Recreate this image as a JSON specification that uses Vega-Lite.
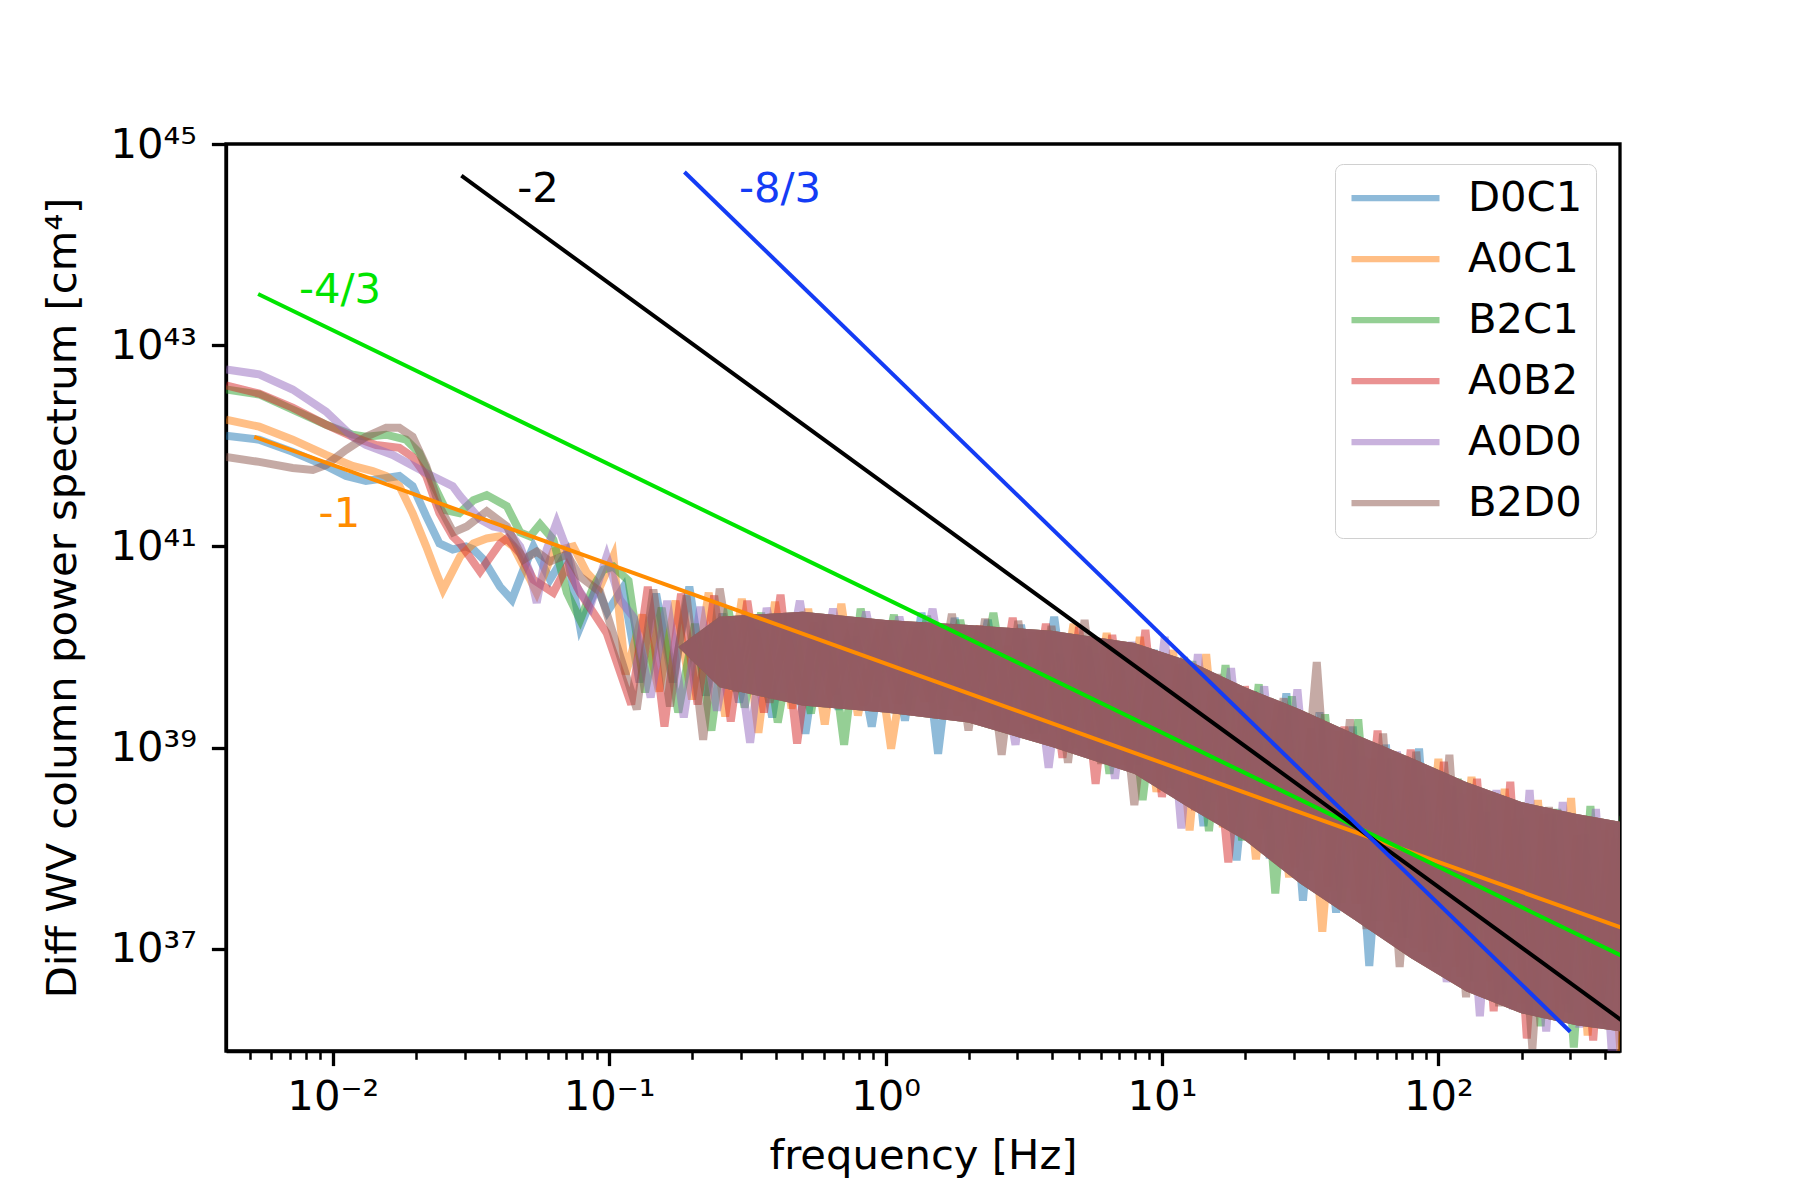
{
  "$schema": "https://vega.github.io/schema/vega-lite/v6.json",
  "width": 1394,
  "height": 907,
  "autosize": {"type": "none"},
  "padding": {"left": 226, "top": 144, "right": 180, "bottom": 149},
  "background": "white",
  "config": {
    "view": {"stroke": "black", "strokeWidth": 3.3},
    "font": "DejaVu Sans",
    "axis": {"grid": false}
  },
  "datasets": {
    "spec": [
      {"s":"D0C1","f":0.004111,"p":1.26e42},{"s":"D0C1","f":0.00542,"p":1.15e42},{"s":"D0C1","f":0.007161,"p":8.71e41},{"s":"D0C1","f":0.009462,"p":6.31e41},{"s":"D0C1","f":0.01117,"p":5.01e41},{"s":"D0C1","f":0.01318,"p":4.47e41},{"s":"D0C1","f":0.0156,"p":4.79e41},{"s":"D0C1","f":0.01742,"p":5.01e41},{"s":"D0C1","f":0.01945,"p":3.98e41},{"s":"D0C1","f":0.02178,"p":2.0e41},{"s":"D0C1","f":0.02432,"p":1.07e41},{"s":"D0C1","f":0.02716,"p":9.33e40},{"s":"D0C1","f":0.03034,"p":1.0e41},{"s":"D0C1","f":0.03228,"p":9.33e40},{"s":"D0C1","f":0.0351,"p":7.41e40},{"s":"D0C1","f":0.04027,"p":3.98e40},{"s":"D0C1","f":0.04446,"p":2.95e40},{"s":"D0C1","f":0.04898,"p":5.89e40},{"s":"D0C1","f":0.05321,"p":1.0e41},{"s":"D0C1","f":0.06109,"p":4.68e40},{"s":"D0C1","f":0.07031,"p":8.71e40},{"s":"D0C1","f":0.07852,"p":1.58e40},{"s":"D0C1","f":0.09016,"p":3.98e40},{"s":"D0C1","f":0.0985,"p":2.24e40},
      {"s":"D0C1","f":0.1122,"p":3.89e40},{"s":"D0C1","f":0.1288,"p":4.47e39},{"s":"D0C1","f":0.1479,"p":3.39e40},{"s":"D0C1","f":0.1698,"p":4.47e39},{"s":"D0C1","f":0.195,"p":3.98e40},{"s":"D0C1","f":0.2239,"p":3.31e39},{"s":"D0C1","f":0.257,"p":2.14e40},{"s":"D0C1","f":0.2951,"p":2.82e39},{"s":"D0C1","f":0.3388,"p":1.48e40},{"s":"D0C1","f":0.389,"p":2.0e39},{"s":"D0C1","f":0.4467,"p":2.14e40},{"s":"D0C1","f":0.5129,"p":1.38e39},{"s":"D0C1","f":0.5888,"p":1.82e40},{"s":"D0C1","f":0.6761,"p":2.4e39},{"s":"D0C1","f":0.7762,"p":1.26e40},{"s":"D0C1","f":0.8913,"p":1.62e39},{"s":"D0C1","f":1.023,"p":1.78e40},{"s":"D0C1","f":1.175,"p":1.86e39},{"s":"D0C1","f":1.349,"p":2.19e40},{"s":"D0C1","f":1.549,"p":8.71e38},{"s":"D0C1","f":1.778,"p":1.95e40},{"s":"D0C1","f":2.042,"p":2.34e39},{"s":"D0C1","f":2.344,"p":1.86e40},{"s":"D0C1","f":2.692,"p":1.51e39},{"s":"D0C1","f":3.09,"p":1.66e40},{"s":"D0C1","f":3.548,"p":1.41e39},{"s":"D0C1","f":4.074,"p":2.0e40},{"s":"D0C1","f":4.677,"p":1.26e39},{"s":"D0C1","f":5.37,"p":1.02e40},{"s":"D0C1","f":6.166,"p":1.1e39},{"s":"D0C1","f":7.079,"p":6.76e39},{"s":"D0C1","f":8.128,"p":6.76e38},{"s":"D0C1","f":9.333,"p":9.33e39},{"s":"D0C1","f":10.72,"p":3.98e38},{"s":"D0C1","f":12.3,"p":6.46e39},{"s":"D0C1","f":14.13,"p":1.66e38},{"s":"D0C1","f":16.22,"p":3.47e39},{"s":"D0C1","f":18.62,"p":7.59e37},{"s":"D0C1","f":21.38,"p":3.63e39},{"s":"D0C1","f":24.55,"p":7.94e37},{"s":"D0C1","f":28.18,"p":3.47e39},{"s":"D0C1","f":32.36,"p":3.02e37},{"s":"D0C1","f":37.15,"p":2.24e39},{"s":"D0C1","f":42.66,"p":2.29e37},{"s":"D0C1","f":48.98,"p":1.62e39},{"s":"D0C1","f":56.23,"p":6.76e36},{"s":"D0C1","f":64.57,"p":1.07e39},{"s":"D0C1","f":74.13,"p":1.29e37},{"s":"D0C1","f":85.11,"p":9.77e38},{"s":"D0C1","f":97.72,"p":6.61e36},{"s":"D0C1","f":112.2,"p":4.17e38},{"s":"D0C1","f":128.8,"p":4.79e36},{"s":"D0C1","f":147.9,"p":2.29e38},{"s":"D0C1","f":169.8,"p":3.55e36},{"s":"D0C1","f":195.0,"p":2.82e38},{"s":"D0C1","f":223.9,"p":3.39e36},{"s":"D0C1","f":257.0,"p":2.19e38},{"s":"D0C1","f":295.1,"p":2.34e36},{"s":"D0C1","f":338.8,"p":1.38e38},{"s":"D0C1","f":389.0,"p":1.82e36},{"s":"D0C1","f":446.7,"p":1.78e38},

      {"s":"A0C1","f":0.004111,"p":1.82e42},{"s":"A0C1","f":0.00542,"p":1.55e42},{"s":"A0C1","f":0.007161,"p":1.15e42},{"s":"A0C1","f":0.009462,"p":8.13e41},{"s":"A0C1","f":0.0118,"p":6.31e41},{"s":"A0C1","f":0.01396,"p":5.62e41},{"s":"A0C1","f":0.0156,"p":5.01e41},{"s":"A0C1","f":0.01742,"p":3.98e41},{"s":"A0C1","f":0.01945,"p":2.14e41},{"s":"A0C1","f":0.02178,"p":1.0e41},{"s":"A0C1","f":0.02366,"p":5.5e40},{"s":"A0C1","f":0.02506,"p":3.72e40},{"s":"A0C1","f":0.02891,"p":7.94e40},{"s":"A0C1","f":0.03228,"p":1.07e41},{"s":"A0C1","f":0.03606,"p":1.2e41},{"s":"A0C1","f":0.04027,"p":1.26e41},{"s":"A0C1","f":0.04498,"p":1.0e41},{"s":"A0C1","f":0.05035,"p":5.5e40},{"s":"A0C1","f":0.0547,"p":3.47e40},{"s":"A0C1","f":0.06281,"p":8.91e40},{"s":"A0C1","f":0.07413,"p":1.0e41},{"s":"A0C1","f":0.08299,"p":5.5e40},{"s":"A0C1","f":0.09268,"p":3.98e40},{"s":"A0C1","f":0.1035,"p":7.94e40},
      {"s":"A0C1","f":0.1148,"p":5.37e39},{"s":"A0C1","f":0.1318,"p":2.09e40},{"s":"A0C1","f":0.1514,"p":3.63e39},{"s":"A0C1","f":0.1738,"p":2.88e40},{"s":"A0C1","f":0.1995,"p":3.02e39},{"s":"A0C1","f":0.2291,"p":3.47e40},{"s":"A0C1","f":0.263,"p":2.04e39},{"s":"A0C1","f":0.302,"p":3.02e40},{"s":"A0C1","f":0.3467,"p":1.41e39},{"s":"A0C1","f":0.3981,"p":2.82e40},{"s":"A0C1","f":0.4571,"p":2.45e39},{"s":"A0C1","f":0.5248,"p":2.4e40},{"s":"A0C1","f":0.6026,"p":1.7e39},{"s":"A0C1","f":0.6918,"p":2.69e40},{"s":"A0C1","f":0.7943,"p":2.09e39},{"s":"A0C1","f":0.912,"p":1.48e40},{"s":"A0C1","f":1.047,"p":9.77e38},{"s":"A0C1","f":1.202,"p":1.05e40},{"s":"A0C1","f":1.38,"p":2.88e39},{"s":"A0C1","f":1.585,"p":1.58e40},{"s":"A0C1","f":1.82,"p":2.09e39},{"s":"A0C1","f":2.089,"p":1.45e40},{"s":"A0C1","f":2.399,"p":1.91e39},{"s":"A0C1","f":2.754,"p":1.02e40},{"s":"A0C1","f":3.162,"p":1.74e39},{"s":"A0C1","f":3.631,"p":1.45e40},{"s":"A0C1","f":4.169,"p":1.58e39},{"s":"A0C1","f":4.786,"p":1.7e40},{"s":"A0C1","f":5.495,"p":9.77e38},{"s":"A0C1","f":6.31,"p":1.38e40},{"s":"A0C1","f":7.244,"p":6.76e38},{"s":"A0C1","f":8.318,"p":1.26e40},{"s":"A0C1","f":9.55,"p":3.63e38},{"s":"A0C1","f":10.96,"p":9.33e39},{"s":"A0C1","f":12.59,"p":1.51e38},{"s":"A0C1","f":14.45,"p":8.51e39},{"s":"A0C1","f":16.6,"p":1.62e38},{"s":"A0C1","f":19.05,"p":3.47e39},{"s":"A0C1","f":21.88,"p":7.76e37},{"s":"A0C1","f":25.12,"p":1.86e39},{"s":"A0C1","f":28.84,"p":5.13e37},{"s":"A0C1","f":33.11,"p":2.19e39},{"s":"A0C1","f":38.02,"p":1.48e37},{"s":"A0C1","f":43.65,"p":1.45e39},{"s":"A0C1","f":50.12,"p":2.82e37},{"s":"A0C1","f":57.54,"p":7.76e38},{"s":"A0C1","f":66.07,"p":1.32e37},{"s":"A0C1","f":75.86,"p":8.13e38},{"s":"A0C1","f":87.1,"p":9.33e36},{"s":"A0C1","f":100.0,"p":7.76e38},{"s":"A0C1","f":114.8,"p":6.61e36},{"s":"A0C1","f":131.8,"p":5.13e38},{"s":"A0C1","f":151.4,"p":4.79e36},{"s":"A0C1","f":173.8,"p":3.89e38},{"s":"A0C1","f":199.5,"p":2.88e36},{"s":"A0C1","f":229.1,"p":3.02e38},{"s":"A0C1","f":263.0,"p":2.24e36},{"s":"A0C1","f":302.0,"p":3.16e38},{"s":"A0C1","f":346.7,"p":1.38e36},{"s":"A0C1","f":398.1,"p":1.51e38},{"s":"A0C1","f":457.1,"p":8.51e35},

      {"s":"B2C1","f":0.004111,"p":3.63e42},{"s":"B2C1","f":0.00542,"p":3.24e42},{"s":"B2C1","f":0.007161,"p":2.29e42},{"s":"B2C1","f":0.009462,"p":1.62e42},{"s":"B2C1","f":0.0118,"p":1.29e42},{"s":"B2C1","f":0.01318,"p":1.23e42},{"s":"B2C1","f":0.0156,"p":1.29e42},{"s":"B2C1","f":0.01841,"p":1.15e42},{"s":"B2C1","f":0.02056,"p":8.51e41},{"s":"B2C1","f":0.02301,"p":4.27e41},{"s":"B2C1","f":0.0257,"p":2.29e41},{"s":"B2C1","f":0.02871,"p":2.14e41},{"s":"B2C1","f":0.03228,"p":2.88e41},{"s":"B2C1","f":0.03606,"p":3.24e41},{"s":"B2C1","f":0.04266,"p":2.51e41},{"s":"B2C1","f":0.04764,"p":1.38e41},{"s":"B2C1","f":0.05176,"p":1.26e41},{"s":"B2C1","f":0.05623,"p":1.66e41},{"s":"B2C1","f":0.06281,"p":1.17e41},{"s":"B2C1","f":0.07031,"p":3.47e40},{"s":"B2C1","f":0.07852,"p":1.86e40},{"s":"B2C1","f":0.0877,"p":3.98e40},{"s":"B2C1","f":0.09528,"p":5.89e40},{"s":"B2C1","f":0.1035,"p":6.31e40},
      {"s":"B2C1","f":0.1175,"p":4.57e40},{"s":"B2C1","f":0.1349,"p":3.55e39},{"s":"B2C1","f":0.1549,"p":2.45e40},{"s":"B2C1","f":0.1778,"p":2.24e39},{"s":"B2C1","f":0.2042,"p":1.7e40},{"s":"B2C1","f":0.2344,"p":1.48e39},{"s":"B2C1","f":0.2692,"p":2.51e40},{"s":"B2C1","f":0.309,"p":2.51e39},{"s":"B2C1","f":0.3548,"p":2.19e40},{"s":"B2C1","f":0.4074,"p":1.78e39},{"s":"B2C1","f":0.4677,"p":1.51e40},{"s":"B2C1","f":0.537,"p":2.19e39},{"s":"B2C1","f":0.6166,"p":2.04e40},{"s":"B2C1","f":0.7079,"p":1.07e39},{"s":"B2C1","f":0.8128,"p":2.4e40},{"s":"B2C1","f":0.9333,"p":3.24e39},{"s":"B2C1","f":1.072,"p":2.09e40},{"s":"B2C1","f":1.23,"p":2.34e39},{"s":"B2C1","f":1.413,"p":2.04e40},{"s":"B2C1","f":1.622,"p":2.45e39},{"s":"B2C1","f":1.862,"p":1.86e40},{"s":"B2C1","f":2.138,"p":2.34e39},{"s":"B2C1","f":2.455,"p":2.19e40},{"s":"B2C1","f":2.818,"p":2.14e39},{"s":"B2C1","f":3.236,"p":1.2e40},{"s":"B2C1","f":3.715,"p":1.41e39},{"s":"B2C1","f":4.266,"p":8.51e39},{"s":"B2C1","f":4.898,"p":1.0e39},{"s":"B2C1","f":5.623,"p":1.2e40},{"s":"B2C1","f":6.457,"p":5.5e38},{"s":"B2C1","f":7.413,"p":1.0e40},{"s":"B2C1","f":8.511,"p":3.02e38},{"s":"B2C1","f":9.772,"p":6.61e39},{"s":"B2C1","f":11.22,"p":3.55e38},{"s":"B2C1","f":12.88,"p":7.24e39},{"s":"B2C1","f":14.79,"p":1.48e38},{"s":"B2C1","f":16.98,"p":6.61e39},{"s":"B2C1","f":19.5,"p":1.2e38},{"s":"B2C1","f":22.39,"p":4.27e39},{"s":"B2C1","f":25.7,"p":3.55e37},{"s":"B2C1","f":29.51,"p":3.24e39},{"s":"B2C1","f":33.88,"p":6.03e37},{"s":"B2C1","f":38.9,"p":2.14e39},{"s":"B2C1","f":44.67,"p":2.88e37},{"s":"B2C1","f":51.29,"p":1.91e39},{"s":"B2C1","f":58.88,"p":1.91e37},{"s":"B2C1","f":67.61,"p":7.76e38},{"s":"B2C1","f":77.62,"p":1.29e37},{"s":"B2C1","f":89.13,"p":4.17e38},{"s":"B2C1","f":102.3,"p":9.33e36},{"s":"B2C1","f":117.5,"p":4.9e38},{"s":"B2C1","f":134.9,"p":4.79e36},{"s":"B2C1","f":154.9,"p":3.39e38},{"s":"B2C1","f":177.8,"p":2.82e36},{"s":"B2C1","f":204.2,"p":2.0e38},{"s":"B2C1","f":234.4,"p":1.7e36},{"s":"B2C1","f":269.2,"p":2.45e38},{"s":"B2C1","f":309.0,"p":1.05e36},{"s":"B2C1","f":354.8,"p":2.63e38},{"s":"B2C1","f":407.4,"p":1.62e36},{"s":"B2C1","f":467.7,"p":2.09e38},

      {"s":"A0B2","f":0.004111,"p":3.98e42},{"s":"A0B2","f":0.00542,"p":3.31e42},{"s":"A0B2","f":0.007161,"p":2.4e42},{"s":"A0B2","f":0.009462,"p":1.62e42},{"s":"A0B2","f":0.0118,"p":1.23e42},{"s":"A0B2","f":0.01435,"p":1.02e42},{"s":"A0B2","f":0.01742,"p":9.55e41},{"s":"A0B2","f":0.01945,"p":7.76e41},{"s":"A0B2","f":0.02178,"p":5.01e41},{"s":"A0B2","f":0.02432,"p":2.14e41},{"s":"A0B2","f":0.02716,"p":1.26e41},{"s":"A0B2","f":0.02891,"p":1.07e41},{"s":"A0B2","f":0.03412,"p":5.62e40},{"s":"A0B2","f":0.04027,"p":1.07e41},{"s":"A0B2","f":0.04266,"p":1.2e41},{"s":"A0B2","f":0.04764,"p":8.51e40},{"s":"A0B2","f":0.05321,"p":4.68e40},{"s":"A0B2","f":0.06281,"p":3.47e40},{"s":"A0B2","f":0.07031,"p":6.31e40},{"s":"A0B2","f":0.07852,"p":3.47e40},{"s":"A0B2","f":0.0877,"p":2.19e40},{"s":"A0B2","f":0.09795,"p":1.38e40},
      {"s":"A0B2","f":0.1202,"p":2.69e39},{"s":"A0B2","f":0.138,"p":3.98e40},{"s":"A0B2","f":0.1585,"p":1.62e39},{"s":"A0B2","f":0.182,"p":3.39e40},{"s":"A0B2","f":0.2089,"p":2.69e39},{"s":"A0B2","f":0.2399,"p":3.24e40},{"s":"A0B2","f":0.2754,"p":1.82e39},{"s":"A0B2","f":0.3162,"p":2.88e40},{"s":"A0B2","f":0.3631,"p":2.24e39},{"s":"A0B2","f":0.4169,"p":3.31e40},{"s":"A0B2","f":0.4786,"p":1.1e39},{"s":"A0B2","f":0.5495,"p":1.74e40},{"s":"A0B2","f":0.631,"p":3.39e39},{"s":"A0B2","f":0.7244,"p":1.15e40},{"s":"A0B2","f":0.8318,"p":2.63e39},{"s":"A0B2","f":0.955,"p":1.74e40},{"s":"A0B2","f":1.096,"p":2.75e39},{"s":"A0B2","f":1.259,"p":1.55e40},{"s":"A0B2","f":1.445,"p":2.88e39},{"s":"A0B2","f":1.66,"p":1.12e40},{"s":"A0B2","f":1.905,"p":2.95e39},{"s":"A0B2","f":2.188,"p":1.62e40},{"s":"A0B2","f":2.512,"p":1.91e39},{"s":"A0B2","f":2.884,"p":1.95e40},{"s":"A0B2","f":3.311,"p":1.38e39},{"s":"A0B2","f":3.802,"p":1.7e40},{"s":"A0B2","f":4.365,"p":7.94e38},{"s":"A0B2","f":5.012,"p":1.58e40},{"s":"A0B2","f":5.754,"p":4.37e38},{"s":"A0B2","f":6.607,"p":1.32e40},{"s":"A0B2","f":7.586,"p":6.03e38},{"s":"A0B2","f":8.71,"p":1.48e40},{"s":"A0B2","f":10.0,"p":3.24e38},{"s":"A0B2","f":11.48,"p":6.76e39},{"s":"A0B2","f":13.18,"p":2.4e38},{"s":"A0B2","f":15.14,"p":3.63e39},{"s":"A0B2","f":17.38,"p":7.24e37},{"s":"A0B2","f":19.95,"p":4.07e39},{"s":"A0B2","f":22.91,"p":1.55e38},{"s":"A0B2","f":26.3,"p":2.75e39},{"s":"A0B2","f":30.2,"p":6.46e37},{"s":"A0B2","f":34.67,"p":1.55e39},{"s":"A0B2","f":39.81,"p":4.17e37},{"s":"A0B2","f":45.71,"p":1.62e39},{"s":"A0B2","f":52.48,"p":2.82e37},{"s":"A0B2","f":60.26,"p":1.48e39},{"s":"A0B2","f":69.18,"p":1.86e37},{"s":"A0B2","f":79.43,"p":9.55e38},{"s":"A0B2","f":91.2,"p":9.33e36},{"s":"A0B2","f":104.7,"p":7.24e38},{"s":"A0B2","f":120.2,"p":5.25e36},{"s":"A0B2","f":138.0,"p":4.9e38},{"s":"A0B2","f":158.5,"p":2.4e36},{"s":"A0B2","f":182.0,"p":4.57e38},{"s":"A0B2","f":208.9,"p":1.29e36},{"s":"A0B2","f":239.9,"p":2.19e38},{"s":"A0B2","f":275.4,"p":2.0e36},{"s":"A0B2","f":316.2,"p":1.35e38},{"s":"A0B2","f":363.1,"p":1.23e36},{"s":"A0B2","f":416.9,"p":1.78e38},{"s":"A0B2","f":478.6,"p":1.35e36},

      {"s":"A0D0","f":0.004111,"p":5.75e42},{"s":"A0D0","f":0.00542,"p":5.13e42},{"s":"A0D0","f":0.007161,"p":3.63e42},{"s":"A0D0","f":0.009462,"p":2.19e42},{"s":"A0D0","f":0.0118,"p":1.23e42},{"s":"A0D0","f":0.01318,"p":1.02e42},{"s":"A0D0","f":0.01648,"p":8.13e41},{"s":"A0D0","f":0.02178,"p":5.37e41},{"s":"A0D0","f":0.02716,"p":3.98e41},{"s":"A0D0","f":0.02891,"p":3.16e41},{"s":"A0D0","f":0.03412,"p":1.86e41},{"s":"A0D0","f":0.03802,"p":1.58e41},{"s":"A0D0","f":0.04266,"p":1.48e41},{"s":"A0D0","f":0.04764,"p":1.0e41},{"s":"A0D0","f":0.05176,"p":5.5e40},{"s":"A0D0","f":0.0547,"p":2.75e40},{"s":"A0D0","f":0.05943,"p":9.33e40},{"s":"A0D0","f":0.06457,"p":1.74e41},{"s":"A0D0","f":0.07031,"p":9.33e40},{"s":"A0D0","f":0.07638,"p":3.98e40},{"s":"A0D0","f":0.08531,"p":2.51e40},{"s":"A0D0","f":0.09795,"p":7.94e40},{"s":"A0D0","f":0.1094,"p":2.95e40},
      {"s":"A0D0","f":0.123,"p":1.95e40},{"s":"A0D0","f":0.1413,"p":3.16e39},{"s":"A0D0","f":0.1622,"p":2.88e40},{"s":"A0D0","f":0.1862,"p":2.0e39},{"s":"A0D0","f":0.2138,"p":2.51e40},{"s":"A0D0","f":0.2455,"p":2.34e39},{"s":"A0D0","f":0.2818,"p":1.78e40},{"s":"A0D0","f":0.3236,"p":1.12e39},{"s":"A0D0","f":0.3715,"p":2.45e40},{"s":"A0D0","f":0.4266,"p":3.55e39},{"s":"A0D0","f":0.4898,"p":2.88e40},{"s":"A0D0","f":0.5623,"p":2.75e39},{"s":"A0D0","f":0.6457,"p":2.4e40},{"s":"A0D0","f":0.7413,"p":3.02e39},{"s":"A0D0","f":0.8511,"p":2.24e40},{"s":"A0D0","f":0.9772,"p":3.24e39},{"s":"A0D0","f":1.122,"p":2.0e40},{"s":"A0D0","f":1.288,"p":3.31e39},{"s":"A0D0","f":1.479,"p":2.4e40},{"s":"A0D0","f":1.698,"p":2.45e39},{"s":"A0D0","f":1.95,"p":1.35e40},{"s":"A0D0","f":2.239,"p":1.86e39},{"s":"A0D0","f":2.57,"p":9.33e39},{"s":"A0D0","f":2.951,"p":1.07e39},{"s":"A0D0","f":3.388,"p":1.41e40},{"s":"A0D0","f":3.89,"p":6.31e38},{"s":"A0D0","f":4.467,"p":1.26e40},{"s":"A0D0","f":5.129,"p":8.91e38},{"s":"A0D0","f":5.888,"p":8.51e39},{"s":"A0D0","f":6.761,"p":4.9e38},{"s":"A0D0","f":7.762,"p":1.12e40},{"s":"A0D0","f":8.913,"p":4.79e38},{"s":"A0D0","f":10.23,"p":1.26e40},{"s":"A0D0","f":11.75,"p":1.58e38},{"s":"A0D0","f":13.49,"p":8.51e39},{"s":"A0D0","f":15.49,"p":2.95e38},{"s":"A0D0","f":17.78,"p":6.17e39},{"s":"A0D0","f":20.42,"p":1.51e38},{"s":"A0D0","f":23.44,"p":4.07e39},{"s":"A0D0","f":26.92,"p":1.0e38},{"s":"A0D0","f":30.9,"p":3.8e39},{"s":"A0D0","f":35.48,"p":6.03e37},{"s":"A0D0","f":40.74,"p":1.55e39},{"s":"A0D0","f":46.77,"p":4.07e37},{"s":"A0D0","f":53.7,"p":8.13e38},{"s":"A0D0","f":61.66,"p":1.91e37},{"s":"A0D0","f":70.79,"p":9.12e38},{"s":"A0D0","f":81.28,"p":1.02e37},{"s":"A0D0","f":93.33,"p":6.17e38},{"s":"A0D0","f":107.2,"p":4.68e36},{"s":"A0D0","f":123.0,"p":3.47e38},{"s":"A0D0","f":141.3,"p":2.14e36},{"s":"A0D0","f":162.2,"p":3.8e38},{"s":"A0D0","f":186.2,"p":2.51e36},{"s":"A0D0","f":213.8,"p":3.8e38},{"s":"A0D0","f":245.5,"p":1.51e36},{"s":"A0D0","f":281.8,"p":2.88e38},{"s":"A0D0","f":323.6,"p":1.66e36},{"s":"A0D0","f":371.5,"p":2.45e38},{"s":"A0D0","f":426.6,"p":7.24e35},{"s":"A0D0","f":489.8,"p":2.0e38},

      {"s":"B2D0","f":0.004111,"p":7.76e41},{"s":"B2D0","f":0.00542,"p":6.92e41},{"s":"B2D0","f":0.007161,"p":6.03e41},{"s":"B2D0","f":0.00847,"p":5.75e41},{"s":"B2D0","f":0.009462,"p":6.46e41},{"s":"B2D0","f":0.01117,"p":9.12e41},{"s":"B2D0","f":0.01318,"p":1.23e42},{"s":"B2D0","f":0.0156,"p":1.51e42},{"s":"B2D0","f":0.01742,"p":1.51e42},{"s":"B2D0","f":0.01945,"p":1.23e42},{"s":"B2D0","f":0.02178,"p":6.31e41},{"s":"B2D0","f":0.02432,"p":2.51e41},{"s":"B2D0","f":0.02729,"p":1.38e41},{"s":"B2D0","f":0.03055,"p":1.58e41},{"s":"B2D0","f":0.03606,"p":2.24e41},{"s":"B2D0","f":0.04266,"p":1.58e41},{"s":"B2D0","f":0.04898,"p":7.41e40},{"s":"B2D0","f":0.0547,"p":8.91e40},{"s":"B2D0","f":0.06109,"p":7.08e40},{"s":"B2D0","f":0.07031,"p":8.32e40},{"s":"B2D0","f":0.07852,"p":5.01e40},{"s":"B2D0","f":0.09268,"p":3.55e40},
      {"s":"B2D0","f":0.1259,"p":2.4e39},{"s":"B2D0","f":0.1445,"p":3.72e40},{"s":"B2D0","f":0.166,"p":2.57e39},{"s":"B2D0","f":0.1905,"p":3.24e40},{"s":"B2D0","f":0.2188,"p":1.2e39},{"s":"B2D0","f":0.2512,"p":3.8e40},{"s":"B2D0","f":0.2884,"p":3.63e39},{"s":"B2D0","f":0.3311,"p":2.09e40},{"s":"B2D0","f":0.3802,"p":2.82e39},{"s":"B2D0","f":0.4365,"p":1.41e40},{"s":"B2D0","f":0.5012,"p":3.09e39},{"s":"B2D0","f":0.5754,"p":2.04e40},{"s":"B2D0","f":0.6607,"p":3.39e39},{"s":"B2D0","f":0.7586,"p":1.7e40},{"s":"B2D0","f":0.871,"p":3.72e39},{"s":"B2D0","f":1.0,"p":1.23e40},{"s":"B2D0","f":1.148,"p":2.75e39},{"s":"B2D0","f":1.318,"p":1.74e40},{"s":"B2D0","f":1.514,"p":2.29e39},{"s":"B2D0","f":1.738,"p":2.14e40},{"s":"B2D0","f":1.995,"p":1.48e39},{"s":"B2D0","f":2.291,"p":1.91e40},{"s":"B2D0","f":2.63,"p":8.51e38},{"s":"B2D0","f":3.02,"p":1.82e40},{"s":"B2D0","f":3.467,"p":1.23e39},{"s":"B2D0","f":3.981,"p":1.62e40},{"s":"B2D0","f":4.571,"p":7.08e38},{"s":"B2D0","f":5.248,"p":1.86e40},{"s":"B2D0","f":6.026,"p":6.92e38},{"s":"B2D0","f":6.918,"p":9.55e39},{"s":"B2D0","f":7.943,"p":2.69e38},{"s":"B2D0","f":9.12,"p":6.31e39},{"s":"B2D0","f":10.47,"p":6.46e38},{"s":"B2D0","f":12.02,"p":7.94e39},{"s":"B2D0","f":13.8,"p":3.02e38},{"s":"B2D0","f":15.85,"p":5.37e39},{"s":"B2D0","f":18.2,"p":2.04e38},{"s":"B2D0","f":20.89,"p":2.88e39},{"s":"B2D0","f":23.99,"p":1.55e38},{"s":"B2D0","f":27.54,"p":3.09e39},{"s":"B2D0","f":31.62,"p":9.12e37},{"s":"B2D0","f":36.31,"p":7.08e39},{"s":"B2D0","f":41.69,"p":3.72e37},{"s":"B2D0","f":47.86,"p":1.91e39},{"s":"B2D0","f":54.95,"p":1.58e37},{"s":"B2D0","f":63.1,"p":1.38e39},{"s":"B2D0","f":72.44,"p":6.61e36},{"s":"B2D0","f":83.18,"p":9.12e38},{"s":"B2D0","f":95.5,"p":7.41e36},{"s":"B2D0","f":109.6,"p":8.51e38},{"s":"B2D0","f":125.9,"p":3.31e36},{"s":"B2D0","f":144.5,"p":3.55e38},{"s":"B2D0","f":166.0,"p":2.69e36},{"s":"B2D0","f":190.5,"p":1.95e38},{"s":"B2D0","f":218.8,"p":1.02e36},{"s":"B2D0","f":251.2,"p":2.57e38},{"s":"B2D0","f":288.4,"p":2.82e36},{"s":"B2D0","f":331.1,"p":2.0e38},{"s":"B2D0","f":380.2,"p":1.95e36},{"s":"B2D0","f":436.5,"p":1.26e38},{"s":"B2D0","f":501.2,"p":1.91e36}
    ],
    "core": [
      {"s":"D0C1","f":0.178,"p":1.0e40,"p2":1.0e40},{"s":"D0C1","f":0.251,"p":2.0e40,"p2":3.98e39},{"s":"D0C1","f":0.501,"p":2.24e40,"p2":2.63e39},{"s":"D0C1","f":1.0,"p":1.86e40,"p2":2.24e39},{"s":"D0C1","f":1.995,"p":1.66e40,"p2":1.78e39},{"s":"D0C1","f":3.981,"p":1.45e40,"p2":1.02e39},{"s":"D0C1","f":7.943,"p":1.1e40,"p2":5.5e38},{"s":"D0C1","f":12.59,"p":7.24e39,"p2":2.51e38},{"s":"D0C1","f":19.95,"p":3.98e39,"p2":1.2e38},{"s":"D0C1","f":31.62,"p":2.4e39,"p2":4.47e37},{"s":"D0C1","f":50.12,"p":1.35e39,"p2":1.91e37},{"s":"D0C1","f":79.43,"p":7.94e38,"p2":8.13e36},{"s":"D0C1","f":125.9,"p":4.57e38,"p2":3.8e36},{"s":"D0C1","f":199.5,"p":2.88e38,"p2":2.29e36},{"s":"D0C1","f":316.2,"p":2.19e38,"p2":1.74e36},{"s":"D0C1","f":460,"p":1.82e38,"p2":1.51e36},
      {"s":"A0C1","f":0.178,"p":1.0e40,"p2":1.0e40},{"s":"A0C1","f":0.251,"p":2.0e40,"p2":3.98e39},{"s":"A0C1","f":0.501,"p":2.24e40,"p2":2.63e39},{"s":"A0C1","f":1.0,"p":1.86e40,"p2":2.24e39},{"s":"A0C1","f":1.995,"p":1.66e40,"p2":1.78e39},{"s":"A0C1","f":3.981,"p":1.45e40,"p2":1.02e39},{"s":"A0C1","f":7.943,"p":1.1e40,"p2":5.5e38},{"s":"A0C1","f":12.59,"p":7.24e39,"p2":2.51e38},{"s":"A0C1","f":19.95,"p":3.98e39,"p2":1.2e38},{"s":"A0C1","f":31.62,"p":2.4e39,"p2":4.47e37},{"s":"A0C1","f":50.12,"p":1.35e39,"p2":1.91e37},{"s":"A0C1","f":79.43,"p":7.94e38,"p2":8.13e36},{"s":"A0C1","f":125.9,"p":4.57e38,"p2":3.8e36},{"s":"A0C1","f":199.5,"p":2.88e38,"p2":2.29e36},{"s":"A0C1","f":316.2,"p":2.19e38,"p2":1.74e36},{"s":"A0C1","f":460,"p":1.82e38,"p2":1.51e36},
      {"s":"B2C1","f":0.178,"p":1.0e40,"p2":1.0e40},{"s":"B2C1","f":0.251,"p":2.0e40,"p2":3.98e39},{"s":"B2C1","f":0.501,"p":2.24e40,"p2":2.63e39},{"s":"B2C1","f":1.0,"p":1.86e40,"p2":2.24e39},{"s":"B2C1","f":1.995,"p":1.66e40,"p2":1.78e39},{"s":"B2C1","f":3.981,"p":1.45e40,"p2":1.02e39},{"s":"B2C1","f":7.943,"p":1.1e40,"p2":5.5e38},{"s":"B2C1","f":12.59,"p":7.24e39,"p2":2.51e38},{"s":"B2C1","f":19.95,"p":3.98e39,"p2":1.2e38},{"s":"B2C1","f":31.62,"p":2.4e39,"p2":4.47e37},{"s":"B2C1","f":50.12,"p":1.35e39,"p2":1.91e37},{"s":"B2C1","f":79.43,"p":7.94e38,"p2":8.13e36},{"s":"B2C1","f":125.9,"p":4.57e38,"p2":3.8e36},{"s":"B2C1","f":199.5,"p":2.88e38,"p2":2.29e36},{"s":"B2C1","f":316.2,"p":2.19e38,"p2":1.74e36},{"s":"B2C1","f":460,"p":1.82e38,"p2":1.51e36},
      {"s":"A0B2","f":0.178,"p":1.0e40,"p2":1.0e40},{"s":"A0B2","f":0.251,"p":2.0e40,"p2":3.98e39},{"s":"A0B2","f":0.501,"p":2.24e40,"p2":2.63e39},{"s":"A0B2","f":1.0,"p":1.86e40,"p2":2.24e39},{"s":"A0B2","f":1.995,"p":1.66e40,"p2":1.78e39},{"s":"A0B2","f":3.981,"p":1.45e40,"p2":1.02e39},{"s":"A0B2","f":7.943,"p":1.1e40,"p2":5.5e38},{"s":"A0B2","f":12.59,"p":7.24e39,"p2":2.51e38},{"s":"A0B2","f":19.95,"p":3.98e39,"p2":1.2e38},{"s":"A0B2","f":31.62,"p":2.4e39,"p2":4.47e37},{"s":"A0B2","f":50.12,"p":1.35e39,"p2":1.91e37},{"s":"A0B2","f":79.43,"p":7.94e38,"p2":8.13e36},{"s":"A0B2","f":125.9,"p":4.57e38,"p2":3.8e36},{"s":"A0B2","f":199.5,"p":2.88e38,"p2":2.29e36},{"s":"A0B2","f":316.2,"p":2.19e38,"p2":1.74e36},{"s":"A0B2","f":460,"p":1.82e38,"p2":1.51e36},
      {"s":"A0D0","f":0.178,"p":1.0e40,"p2":1.0e40},{"s":"A0D0","f":0.251,"p":2.0e40,"p2":3.98e39},{"s":"A0D0","f":0.501,"p":2.24e40,"p2":2.63e39},{"s":"A0D0","f":1.0,"p":1.86e40,"p2":2.24e39},{"s":"A0D0","f":1.995,"p":1.66e40,"p2":1.78e39},{"s":"A0D0","f":3.981,"p":1.45e40,"p2":1.02e39},{"s":"A0D0","f":7.943,"p":1.1e40,"p2":5.5e38},{"s":"A0D0","f":12.59,"p":7.24e39,"p2":2.51e38},{"s":"A0D0","f":19.95,"p":3.98e39,"p2":1.2e38},{"s":"A0D0","f":31.62,"p":2.4e39,"p2":4.47e37},{"s":"A0D0","f":50.12,"p":1.35e39,"p2":1.91e37},{"s":"A0D0","f":79.43,"p":7.94e38,"p2":8.13e36},{"s":"A0D0","f":125.9,"p":4.57e38,"p2":3.8e36},{"s":"A0D0","f":199.5,"p":2.88e38,"p2":2.29e36},{"s":"A0D0","f":316.2,"p":2.19e38,"p2":1.74e36},{"s":"A0D0","f":460,"p":1.82e38,"p2":1.51e36},
      {"s":"B2D0","f":0.178,"p":1.0e40,"p2":1.0e40},{"s":"B2D0","f":0.251,"p":2.0e40,"p2":3.98e39},{"s":"B2D0","f":0.501,"p":2.24e40,"p2":2.63e39},{"s":"B2D0","f":1.0,"p":1.86e40,"p2":2.24e39},{"s":"B2D0","f":1.995,"p":1.66e40,"p2":1.78e39},{"s":"B2D0","f":3.981,"p":1.45e40,"p2":1.02e39},{"s":"B2D0","f":7.943,"p":1.1e40,"p2":5.5e38},{"s":"B2D0","f":12.59,"p":7.24e39,"p2":2.51e38},{"s":"B2D0","f":19.95,"p":3.98e39,"p2":1.2e38},{"s":"B2D0","f":31.62,"p":2.4e39,"p2":4.47e37},{"s":"B2D0","f":50.12,"p":1.35e39,"p2":1.91e37},{"s":"B2D0","f":79.43,"p":7.94e38,"p2":8.13e36},{"s":"B2D0","f":125.9,"p":4.57e38,"p2":3.8e36},{"s":"B2D0","f":199.5,"p":2.88e38,"p2":2.29e36},{"s":"B2D0","f":316.2,"p":2.19e38,"p2":1.74e36},{"s":"B2D0","f":460,"p":1.82e38,"p2":1.51e36}
    ],
    "fits": [
      {"k":"-1","f":0.0052,"p":1.23e42},{"k":"-1","f":460,"p":1.62e37},
      {"k":"-4/3","f":0.00537,"p":3.23e43},{"k":"-4/3","f":460,"p":8.55e36},
      {"k":"-2","f":0.0292,"p":4.84e44},{"k":"-2","f":460,"p":1.95e36},
      {"k":"-8/3","f":0.1872,"p":5.27e44},{"k":"-8/3","f":300,"p":1.5e36}
    ],
    "notes": [
      {"k":"-2","f":0.0553,"p":3.6e44},
      {"k":"-8/3","f":0.415,"p":3.6e44},
      {"k":"-4/3","f":0.01063,"p":3.56e43},
      {"k":"-1","f":0.01057,"p":2.11e41}
    ]
  },
  "layer": [
    {
      "data": {"name": "spec"},
      "mark": {"type": "line", "strokeWidth": 8, "opacity": 0.5, "clip": true},
      "encoding": {
        "x": {
          "field": "f", "type": "quantitative",
          "scale": {"type": "log", "domain": [0.00411, 454], "nice": false},
          "axis": {
            "title": "frequency [Hz]",
            "values": [0.005,0.006,0.007,0.008,0.009,0.01,0.02,0.03,0.04,0.05,0.06,0.07,0.08,0.09,0.1,0.2,0.3,0.4,0.5,0.6,0.7,0.8,0.9,1,2,3,4,5,6,7,8,9,10,20,30,40,50,60,70,80,90,100,200,300,400],
            "labelExpr": "abs(log(datum.value)/LN10 + 2) < 0.001 ? '10⁻²' : abs(log(datum.value)/LN10 + 1) < 0.001 ? '10⁻¹' : abs(log(datum.value)/LN10) < 0.001 ? '10⁰' : abs(log(datum.value)/LN10 - 1) < 0.001 ? '10¹' : abs(log(datum.value)/LN10 - 2) < 0.001 ? '10²' : ''",
            "tickSize": {"condition": {"test": "abs(log(datum.value)/LN10 - round(log(datum.value)/LN10)) < 0.001", "value": 14.6}, "value": 8.3},
            "tickWidth": {"condition": {"test": "abs(log(datum.value)/LN10 - round(log(datum.value)/LN10)) < 0.001", "value": 3.3}, "value": 2.5},
            "tickColor": "black",
            "domainColor": "black", "domainWidth": 3.3,
            "labelFont": "DejaVu Sans", "labelFontSize": 41.7, "labelColor": "black",
            "labelPadding": 11, "labelFlush": false, "labelOverlap": false,
            "titleFont": "DejaVu Sans", "titleFontSize": 41.7, "titleFontWeight": "normal", "titleColor": "black",
            "titlePadding": 17
          }
        },
        "y": {
          "field": "p", "type": "quantitative",
          "scale": {"type": "log", "domain": [9.66e35, 1e45], "nice": false},
          "axis": {
            "title": "Diff WV column power spectrum [cm⁴]",
            "values": [1e37, 1e39, 1e41, 1e43, 1e45],
            "labelExpr": "datum.value > 5e44 ? '10⁴⁵' : datum.value > 5e42 ? '10⁴³' : datum.value > 5e40 ? '10⁴¹' : datum.value > 5e38 ? '10³⁹' : '10³⁷'",
            "tickSize": 14.6, "tickWidth": 3.3, "tickColor": "black",
            "domainColor": "black", "domainWidth": 3.3,
            "labelFont": "DejaVu Sans", "labelFontSize": 41.7, "labelColor": "black",
            "labelPadding": 15, "labelFlush": false, "labelOverlap": false,
            "titleFont": "DejaVu Sans", "titleFontSize": 41.7, "titleFontWeight": "normal", "titleColor": "black",
            "titlePadding": 25
          }
        },
        "color": {
          "field": "s", "type": "nominal",
          "scale": {"domain": ["D0C1","A0C1","B2C1","A0B2","A0D0","B2D0"], "range": ["#1f77b4","#ff7f0e","#2ca02c","#d62728","#9467bd","#8c564b"]},
          "legend": {
            "title": null,
            "orient": "none", "legendX": 1109, "legendY": 20,
            "symbolType": "stroke", "symbolSize": 7744, "symbolStrokeWidth": 6.25, "symbolOpacity": 0.5,
            "labelFont": "DejaVu Sans", "labelFontSize": 41.7, "labelColor": "black",
            "labelOffset": 25, "rowPadding": 18, "padding": 13, "clipHeight": 42,
            "strokeColor": "#d0d0d0", "fillColor": "rgba(255,255,255,0.8)", "cornerRadius": 8
          }
        }
      }
    },
    {
      "data": {"name": "core"},
      "mark": {"type": "area", "opacity": 0.5, "clip": true, "interpolate": "linear"},
      "encoding": {
        "x": {"field": "f", "type": "quantitative"},
        "y": {"field": "p", "type": "quantitative", "stack": null},
        "y2": {"field": "p2"},
        "color": {"field": "s", "type": "nominal"}
      }
    },
    {
      "data": {"name": "fits"},
      "mark": {"type": "line", "strokeWidth": 4, "clip": true},
      "encoding": {
        "x": {"field": "f", "type": "quantitative"},
        "y": {"field": "p", "type": "quantitative"},
        "stroke": {"field": "k", "type": "nominal", "scale": {"domain": ["-1","-4/3","-2","-8/3"], "range": ["#ff8c00","#00e400","#000000","#143cf5"]}, "legend": null}
      }
    },
    {
      "data": {"name": "notes"},
      "mark": {"type": "text", "font": "DejaVu Sans", "fontSize": 41.7, "align": "center", "baseline": "middle"},
      "encoding": {
        "x": {"field": "f", "type": "quantitative"},
        "y": {"field": "p", "type": "quantitative"},
        "text": {"field": "k"},
        "fill": {"field": "k", "type": "nominal", "scale": {"domain": ["-1","-4/3","-2","-8/3"], "range": ["#ff8c00","#00e400","#000000","#143cf5"]}, "legend": null}
      }
    }
  ]
}
